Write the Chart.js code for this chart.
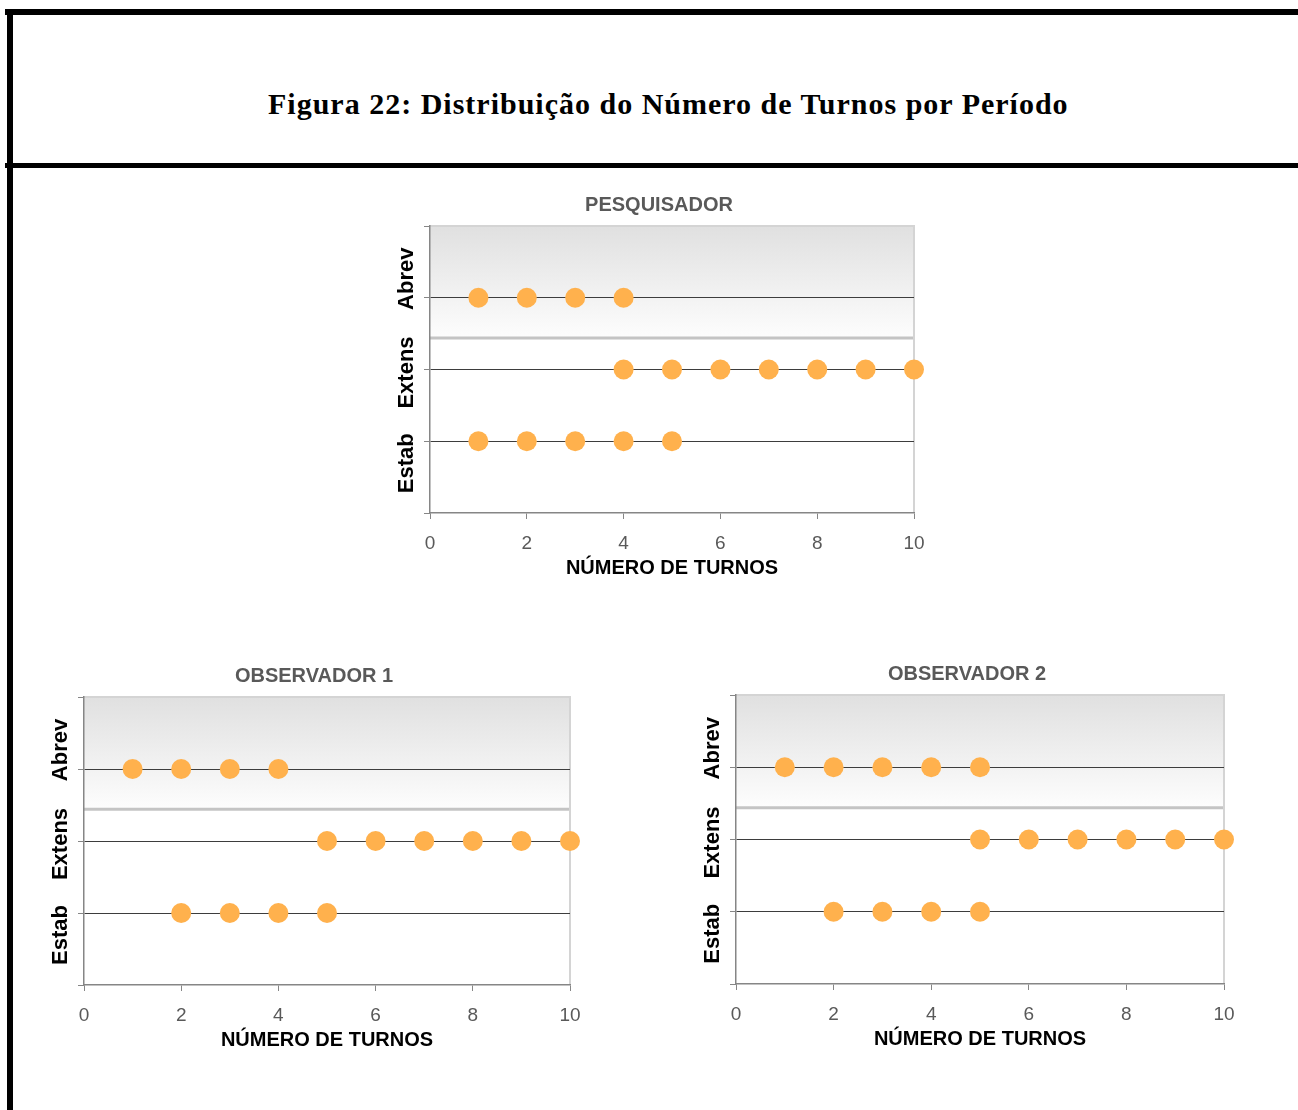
<!DOCTYPE html>
<html>
<head>
<meta charset="utf-8">
<title>Figura 22</title>
<script src="https://cdn.jsdelivr.net/npm/chart.js@4/dist/chart.umd.min.js"></script>
<style>
  html, body { margin: 0; padding: 0; background: #fff; }
  body { width: 1298px; height: 1110px; position: relative; overflow: hidden; }
  .rule { position: absolute; background: #000; }
  #fig-title {
    position: absolute; left: 268px; top: 89px; white-space: nowrap;
    font: bold 30px/30px "Liberation Serif", "Times New Roman", serif; color: #000;
    letter-spacing: 1px;
  }
  canvas { position: absolute; }
</style>
</head>
<body>
<div class="rule" style="left:5px;top:9px;width:1293px;height:6px"></div>
<div class="rule" style="left:7px;top:9px;width:6px;height:1101px"></div>
<div class="rule" style="left:5px;top:163px;width:1293px;height:5px"></div>
<div id="fig-title">Figura 22: Distribuição do Número de Turnos por Período</div>

<canvas id="pesquisador" width="576" height="398" style="left:364px;top:189px"></canvas>
<canvas id="observador1" width="578" height="399" style="left:18px;top:660px"></canvas>
<canvas id="observador2" width="580" height="400" style="left:670px;top:658px"></canvas>

<script>
// Periods on the vertical axis, bottom to top (y = 1, 2, 3)
const periods = ['Estab', 'Extens', 'Abrev'];
// Horizontal axis tick values
const xTicks = [0, 2, 4, 6, 8, 10];
const yTicks = [0, 1, 2, 3, 4];

// Number of turns observed in each period, per rater
const pesquisadorEstab  = [1, 2, 3, 4, 5];
const pesquisadorExtens = [4, 5, 6, 7, 8, 9, 10];
const pesquisadorAbrev  = [1, 2, 3, 4];

const observador1Estab  = [2, 3, 4, 5];
const observador1Extens = [5, 6, 7, 8, 9, 10];
const observador1Abrev  = [1, 2, 3, 4];

const observador2Estab  = [2, 3, 4, 5];
const observador2Extens = [5, 6, 7, 8, 9, 10];
const observador2Abrev  = [1, 2, 3, 4, 5];

// Styling
const FONT = '"Liberation Sans", Arial, Helvetica, sans-serif';
const DOT = 'rgb(255, 177, 77)';
const AXIS_GRAY = '#868686';
const BAND_FLOOR = 2.44;              // shaded band runs from here to the top of the plot
const LABEL_SHIFT = [22, 3, -19];     // vertical nudge of each period name, px
const LABEL_GAP = 23;                 // distance of period names from the axis, px

Chart.defaults.font.family = FONT;

const panelDecor = {
  id: 'panelDecor',
  beforeDraw(chart) {
    const { ctx, chartArea: a, scales: { y } } = chart;
    const yb = y.getPixelForValue(BAND_FLOOR);
    ctx.save();
    const g = ctx.createLinearGradient(0, a.top, 0, yb);
    g.addColorStop(0, '#e0e0e0');
    g.addColorStop(1, '#fdfdfd');
    ctx.fillStyle = g;
    ctx.fillRect(a.left, a.top, a.right - a.left, yb - a.top);
    ctx.strokeStyle = '#c4c4c4';
    ctx.lineWidth = 3;
    ctx.beginPath();
    ctx.moveTo(a.left, yb);
    ctx.lineTo(a.right, yb);
    ctx.stroke();
    ctx.strokeStyle = '#d4d4d4';
    ctx.lineWidth = 2;
    ctx.beginPath();
    ctx.moveTo(a.left, a.top);
    ctx.lineTo(a.right, a.top);
    ctx.lineTo(a.right, a.bottom);
    ctx.stroke();
    ctx.restore();
  },
  afterDraw(chart) {
    const { ctx, chartArea: a, scales: { y } } = chart;
    ctx.save();
    ctx.font = 'bold 22px ' + FONT;
    ctx.fillStyle = '#000';
    ctx.textAlign = 'center';
    ctx.textBaseline = 'middle';
    periods.forEach((name, i) => {
      const py = y.getPixelForValue(i + 1) + LABEL_SHIFT[i];
      ctx.save();
      ctx.translate(a.left - LABEL_GAP, py);
      ctx.rotate(-Math.PI / 2);
      ctx.fillText(name, 0, 0);
      ctx.restore();
    });
    ctx.restore();
  }
};

function drawPanel(id, title, rows) {
  const datasets = rows.map((values, i) => ({
    label: periods[i],
    data: values.map(v => ({ x: v, y: i + 1 })),
    backgroundColor: DOT,
    borderWidth: 0,
    pointRadius: 10,
    pointHoverRadius: 10,
    clip: false
  }));

  new Chart(document.getElementById(id), {
    type: 'scatter',
    data: { datasets },
    plugins: [panelDecor],
    options: {
      responsive: false,
      animation: false,
      events: [],
      layout: { padding: { top: 4, left: 40, right: 26, bottom: 4 } },
      plugins: {
        legend: { display: false },
        tooltip: { enabled: false },
        title: {
          display: true,
          text: title,
          color: '#595959',
          font: { size: 20, weight: 'bold' },
          padding: { top: 0, bottom: 9 }
        }
      },
      scales: {
        x: {
          type: 'linear',
          min: 0,
          max: 10,
          afterBuildTicks: s => { s.ticks = xTicks.map(v => ({ value: v })); },
          afterFit: s => { s.height = 70; },
          ticks: { color: '#595959', font: { size: 19 }, padding: 13 },
          grid: { drawOnChartArea: false, tickLength: 6, color: AXIS_GRAY },
          border: { color: AXIS_GRAY, width: 1.5 },
          title: {
            display: true,
            text: 'NÚMERO DE TURNOS',
            color: '#000',
            font: { size: 20, weight: 'bold' },
            padding: { top: 0, bottom: 3 }
          }
        },
        y: {
          type: 'linear',
          min: 0,
          max: 4,
          afterBuildTicks: s => { s.ticks = yTicks.map(v => ({ value: v })); },
          afterFit: s => { s.width = 26; },
          ticks: { display: false },
          grid: {
            color: c => (c.tick && c.tick.value > 0 && c.tick.value < 4) ? '#3d3d3d' : 'rgba(0,0,0,0)',
            lineWidth: 1,
            tickLength: 6,
            tickColor: AXIS_GRAY
          },
          border: { color: AXIS_GRAY, width: 1.5 }
        }
      }
    }
  });
}

drawPanel('pesquisador', 'PESQUISADOR', [pesquisadorEstab, pesquisadorExtens, pesquisadorAbrev]);
drawPanel('observador1', 'OBSERVADOR 1', [observador1Estab, observador1Extens, observador1Abrev]);
drawPanel('observador2', 'OBSERVADOR 2', [observador2Estab, observador2Extens, observador2Abrev]);
</script>
</body>
</html>
